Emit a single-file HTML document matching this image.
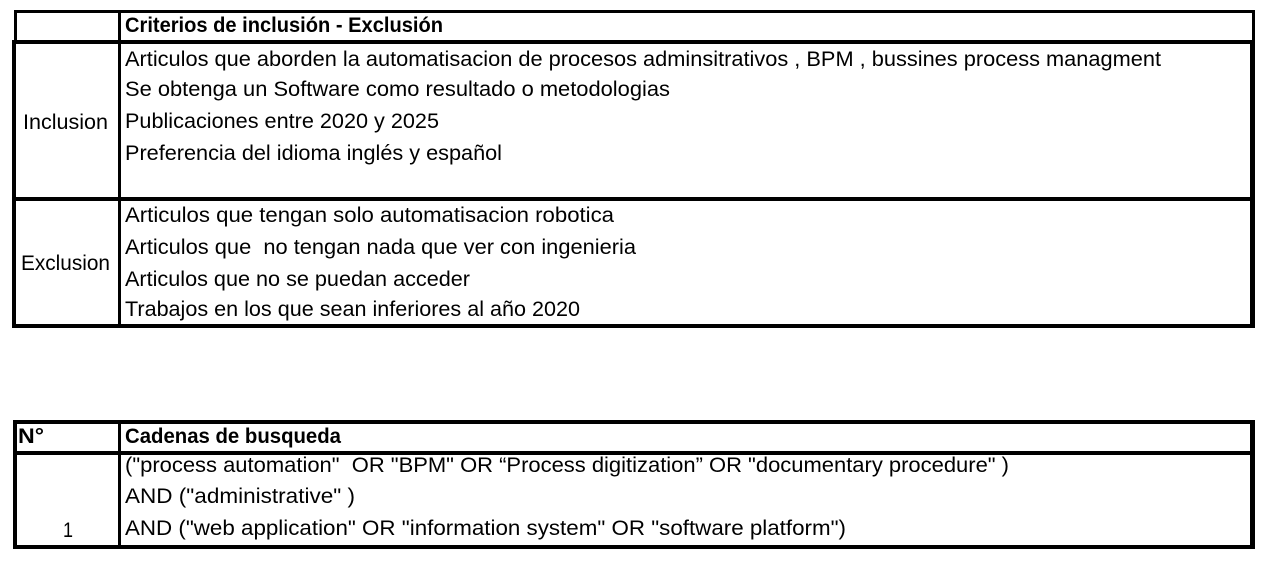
<!DOCTYPE html>
<html><head><meta charset="utf-8"><style>html,body{margin:0;padding:0;background:#fff;}svg{display:block}</style></head>
<body>
<svg width="1269" height="565" xmlns="http://www.w3.org/2000/svg" font-family="Liberation Sans, sans-serif" font-size="21" fill="#000">
<g fill="#000">
<rect x="14" y="10" width="1241" height="3"/>
<rect x="14" y="10" width="3" height="33"/>
<rect x="1252" y="10" width="3" height="33"/>
<rect x="12" y="40" width="1243" height="4"/>
<rect x="12" y="40" width="4" height="288"/>
<rect x="1250" y="40" width="5" height="288"/>
<rect x="12" y="197" width="1243" height="4"/>
<rect x="12" y="324" width="1243" height="4"/>
<rect x="118" y="10" width="3" height="318"/>
<rect x="13" y="420" width="1242" height="4"/>
<rect x="13" y="451" width="1242" height="4"/>
<rect x="13" y="545" width="1242" height="4"/>
<rect x="13" y="420" width="4" height="129"/>
<rect x="1250" y="420" width="5" height="129"/>
<rect x="118" y="420" width="3" height="129"/>
</g>
<g>
<text x="125" y="32" font-weight="bold" textLength="318" lengthAdjust="spacingAndGlyphs">Criterios de inclusión - Exclusión</text>
<text x="23" y="129" textLength="85" lengthAdjust="spacingAndGlyphs">Inclusion</text>
<text x="21" y="270" textLength="89" lengthAdjust="spacingAndGlyphs">Exclusion</text>
<text x="125" y="66" textLength="1036" lengthAdjust="spacingAndGlyphs">Articulos que aborden la automatisacion de procesos adminsitrativos , BPM , bussines process managment</text>
<text x="125" y="96" textLength="545" lengthAdjust="spacingAndGlyphs">Se obtenga un Software como resultado o metodologias</text>
<text x="125" y="128" textLength="314" lengthAdjust="spacingAndGlyphs">Publicaciones entre 2020 y 2025</text>
<text x="125" y="160" textLength="377" lengthAdjust="spacingAndGlyphs">Preferencia del idioma inglés y español</text>
<text x="125" y="222" textLength="489" lengthAdjust="spacingAndGlyphs">Articulos que tengan solo automatisacion robotica</text>
<text x="125" y="254" textLength="511" lengthAdjust="spacingAndGlyphs" xml:space="preserve">Articulos que  no tengan nada que ver con ingenieria</text>
<text x="125" y="286" textLength="345" lengthAdjust="spacingAndGlyphs">Articulos que no se puedan acceder</text>
<text x="125" y="316" textLength="455" lengthAdjust="spacingAndGlyphs">Trabajos en los que sean inferiores al año 2020</text>
<text x="18" y="443" font-weight="bold" textLength="26" lengthAdjust="spacingAndGlyphs">N°</text>
<text x="125" y="443" font-weight="bold" textLength="216" lengthAdjust="spacingAndGlyphs">Cadenas de busqueda</text>
<text x="125" y="472" textLength="884" lengthAdjust="spacingAndGlyphs" xml:space="preserve">("process automation"  OR "BPM" OR “Process digitization” OR "documentary procedure" )</text>
<text x="125" y="503" textLength="230" lengthAdjust="spacingAndGlyphs">AND ("administrative" )</text>
<text x="125" y="535" textLength="721" lengthAdjust="spacingAndGlyphs">AND ("web application" OR "information system" OR "software platform")</text>
<text x="63" y="537" textLength="10" lengthAdjust="spacingAndGlyphs">1</text>
</g>
</svg>
</body></html>
